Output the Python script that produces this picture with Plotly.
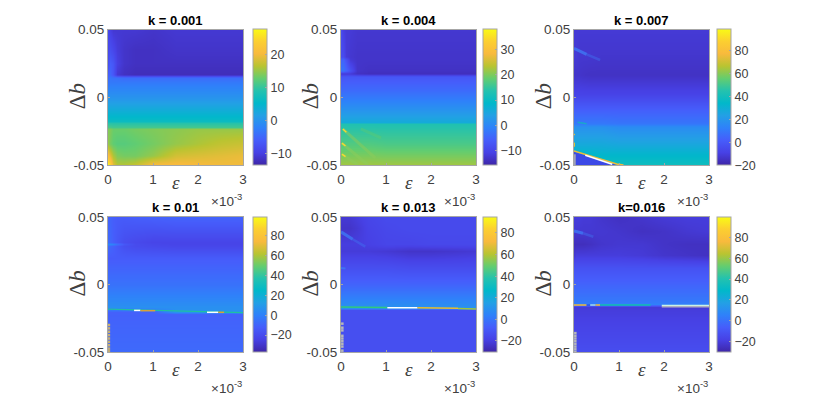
import plotly.graph_objects as go

PAD = 8
W, H = 814, 387

parula = ["#3e26a8", "#4741e5", "#465dfb", "#2f81fa", "#23a0e5", "#01b8ca",
          "#24c2ae", "#64cd6f", "#b9c431", "#f8ba3d", "#fccf30", "#f9fb15"]

eps = [0, 0.00005, 0.0001, 0.0002, 0.00035, 0.0006, 0.001, 0.0015, 0.002, 0.0025, 0.003]
eps_ticks = [0, 0.001, 0.002, 0.003]
eps_labels = ["0", "1", "2", "3"]
db_ticks = [-0.05, 0, 0.05]
db_labels = ["-0.05", "0", "0.05"]
titles = ["k = 0.001", "k = 0.004", "k = 0.007", "k = 0.01", "k = 0.013", "k=0.016"]

# k = 0.001
y_a = [0.05, 0.035, 0.025, 0.0165, 0.0145, 0.011, 0, -0.0095, -0.0176, -0.0185, -0.022, -0.0228, -0.034, -0.043, -0.05]
z_a = [
    [-9, -10, -11, -11, -11, -11, -11.5, -11, -11, -11, -11],
    [-9, -8, -9, -10.5, -11.5, -12, -12, -11.5, -11.5, -11.5, -11.5],
    [-8, -6, -7, -10, -11.5, -12, -12, -12, -12, -12, -12],
    [-6, -5, -7, -11, -12, -12.5, -12.5, -12.5, -12.5, -12.5, -12.5],
    [-5, -3.5, -4, -4, -4.5, -4.5, -4.5, -4.5, -4.5, -4.5, -4.5],
    [-4, -3, -3, -3, -3, -3, -3, -3, -3, -3, -3],
    [0, 0, 0, 0, 0, 0, 0, 0, 0, 0, 0],
    [3.5, 3.5, 3.5, 3.5, 3.5, 3.5, 3.5, 3.5, 3.5, 3.5, 3.5],
    [7, 6.5, 6.5, 6.5, 6.5, 6.5, 6.5, 6.5, 6.5, 6.5, 6.5],
    [9, 9, 9, 9, 9, 9, 9, 9, 9, 9, 9],
    [11.5, 11.5, 11, 11, 11, 11, 11, 11, 11, 11, 11],
    [14, 14, 13, 13, 13, 13.5, 14, 14.5, 15, 15, 15],
    [15, 13.5, 12.5, 12, 12, 12.5, 13.5, 15, 16, 17, 17.5],
    [21, 19, 16, 14, 13.5, 13.5, 15, 18, 18.5, 19, 19.5],
    [27.5, 25, 19, 16.5, 16.5, 17.5, 21, 21, 20.5, 20, 20],
]

# k = 0.004
y_b = [0.05, 0.03, 0.0275, 0.02, 0.0175, 0.0155, 0.005, 0, -0.0095, -0.0188, -0.0197, -0.034, -0.05]
z_b = [
    [-9, -11, -12, -12, -12.5, -12.5, -12.5, -12.5, -12.5, -12.5, -12.5],
    [-9, -9, -12, -12.5, -13, -13, -13, -13, -13, -13, -13],
    [-5, -5, -8, -12, -13, -13, -13, -13, -13, -13, -13],
    [-3, -3, -5, -8, -13, -13.5, -13.5, -13.5, -13.5, -13.5, -13.5],
    [-12, -12, -12, -12, -13.5, -14, -14, -14, -14, -14, -14],
    [-7, -7, -7, -7, -7, -7, -7, -7, -7, -7, -7],
    [-4, -4, -4, -4, -4, -4, -4, -4, -4, -4, -4],
    [-2, -2, -2, -2, -2, -2, -2, -2, -2, -2, -2],
    [2, 2, 2, 2, 2, 2, 2, 2, 2, 2, 2],
    [6, 6, 6, 6, 6, 6, 6, 6, 6, 6, 6],
    [13, 13, 13, 13, 13, 13, 13, 13, 13, 13, 13],
    [17, 17, 17, 17, 17, 17, 16.5, 16.5, 16.5, 16.5, 16.5],
    [22, 22, 22, 22, 22, 22, 22, 22, 22, 22, 22],
]
stripes_b_x = [[0.00004, 0.00076], [0.00002, 0.0006], [0.00002, 0.00038], [0.00044, 0.00089]]
stripes_b_y = [[-0.0234, -0.0448], [-0.0338, -0.05], [-0.042, -0.05], [-0.0234, -0.03]]
heads_b_x = [[0.00004, 0.00012], [0.00002, 0.0001], [0.00002, 0.0001]]
heads_b_y = [[-0.0234, -0.0258], [-0.0338, -0.036], [-0.042, -0.0438]]

# k = 0.007
y_c = [0.05, 0.035, 0.03, 0.017, 0.002, -0.0095, -0.0195, -0.0215, -0.034, -0.041, -0.05]
z_c = [
    [-12, -12, -12, -12, -12, -12, -12, -12, -12, -12, -12],
    [-12, -12, -13, -13, -13, -13, -13, -13, -13, -13, -13],
    [-12, -12, -13, -13, -13, -13.5, -13.5, -13.5, -13.5, -13.5, -13.5],
    [-14, -14, -14, -14.5, -15, -15, -15, -15, -15, -15, -15],
    [-8, -8, -8, -8, -8, -8, -8, -8, -8, -8, -8],
    [2.5, 2.5, 2.5, 2.5, 2.5, 2.5, 2.5, 2.5, 2.5, 2.5, 2.5],
    [10, 10, 10, 10, 10, 10, 9, 9, 9, 9, 9],
    [18, 18, 18, 18, 18, 18, 16, 16, 16, 16, 16],
    [27, 27, 27, 27, 27, 27, 26, 26, 26, 26, 26],
    [34, 33, 33, 33, 33, 32, 32, 32, 32, 32, 32],
    [39, 39, 39, 39, 39, 39, 39, 39, 39, 39, 39],
]
streak_c_x = [[0, 0.00028], [0.00028, 0.00058]]
streak_c_y = [[0.036, 0.0317], [0.0317, 0.0275]]
glint_c_x = [0.00008, 0.00028]
glint_c_y = [-0.0185, -0.0195]
wedge_c_x = [0, 0.00095, 0]
wedge_c_y = [-0.0403, -0.05, -0.05]
crest_c_x = [0, 0.00095, 0.0011]
crest_c_y = [-0.0396, -0.0493, -0.05]
rim_c_x = [0.00025, 0.00085]
rim_c_y = [-0.0428, -0.0495]
edge_c_x = [[0.00001, 0.00001], [0.00001, 0.00001]]
edge_c_y = [[-0.027, -0.028], [-0.0335, -0.0365]]

# k = 0.01
y_d = [0.05, 0.0315, 0.03, 0.0285, 0.02, 0, -0.017, -0.0205, -0.0215, -0.03, -0.05]
z_d = [
    [-11, -10, -12, -13, -13, -12, -11, -10, -10, -10, -10],
    [-8, -9, -12, -15, -19, -21, -23, -23, -23, -23, -23],
    [2, 2, 0, -6, -15, -20, -22, -23, -23, -23, -23],
    [-8, -9, -11, -14, -18, -20, -21, -22, -22, -22, -22],
    [-13, -13, -13, -13, -13, -13, -13, -13, -13, -13, -13],
    [-5, -5, -5, -5, -5, -5, -5, -5, -5, -5, -5],
    [6, 6, 6, 6, 6, 6, 6, 6, 6, 6, 6],
    [-11, -11, -11, -11, -11, -11, -11, 7, 7, 7, 7],
    [-11, -11, -11, -11, -11, -11, -11, -11, -11, -11, -11],
    [-10, -10, -10, -10, -10, -10, -10, -10, -10, -10, -10],
    [-8, -8, -8, -8, -8, -8, -8, -8, -8, -8, -8],
]
line_d_x = [0, 0.0006, 0.0011, 0.0022, 0.003]
line_d_y = [-0.0182, -0.0188, -0.0194, -0.0201, -0.0208]
white_d_x = [[0.00058, 0.00072], [0.0022, 0.00245]]
white_d_y = [[-0.0192, -0.0192], [-0.0206, -0.0206]]
warm_d_x = [[0.00072, 0.00105], [0.00245, 0.00258]]
warm_d_y = [[-0.0194, -0.0194], [-0.0206, -0.0206]]
edge_d_x = [0.00002, 0.00002, 0.00002, 0.00002, 0.00002, 0.00002, 0.00002, 0.00002, 0.00002]
edge_d_y = [-0.03, -0.0325, -0.035, -0.0375, -0.04, -0.0425, -0.045, -0.0475, -0.0495]

# k = 0.013
y_e = [0.05, 0.042, 0.03, 0.025, 0.014, 0, -0.016, -0.0172, -0.019, -0.05]
z_e = [
    [-22, -22, -22, -22, -20, -17, -15, -15, -15, -15, -15],
    [-24, -24, -24, -24, -22, -18, -16, -15, -15, -15, -15],
    [-20, -20, -20, -20, -20, -19, -17, -17, -16, -16, -16],
    [-21, -21, -21, -21, -21, -21, -22, -24, -24, -23, -22],
    [-14, -14, -14, -14, -14, -14, -14, -15, -15, -15, -15],
    [-5, -5, -5, -5, -5, -5, -5, -5, -5, -5, -5],
    [9, 9, 9, 9, 9, 9, 9, 9, 9, 9, 9],
    [9, 9, 9, 9, 9, 9, 9, 9, 9, 9, 9],
    [-13, -13, -13, -13, -13, -13, -13, -13, -13, -13, -13],
    [-13, -13, -13, -13, -13, -13, -13, -13, -13, -13, -13],
]
streak_e_x = [[0, 0.00026], [0.00026, 0.00054]]
streak_e_y = [[0.039, 0.0335], [0.0335, 0.028]]
spot_e_x = [0, 0.0001]
spot_e_y = [0.0122, 0.0118]
line_e_x = [[0, 0.00103], [0.00103, 0.0017], [0.0017, 0.0026], [0.0026, 0.003]]
line_e_y = [[-0.0166, -0.017], [-0.0172, -0.0172], [-0.0172, -0.0176], [-0.0178, -0.0182]]
line_e_colors = ["#31c97c", "#ffffff", "#e9bb30", "#9fc63c"]
edge_e_x = [0.00003, 0.00003, 0.00003, 0.00003, 0.00003, 0.00003, 0.00003, 0.00003, 0.00003]
edge_e_y = [-0.029, -0.032, -0.034, -0.038, -0.04, -0.042, -0.044, -0.046, -0.049]

# k = 0.016
y_f = [0.05, 0.04, 0.03, 0.022, 0.012, 0, -0.0128, -0.0148, -0.0165, -0.019, -0.05]
z_f = [
    [-20, -20, -20, -21, -21, -23, -25, -23, -21, -20, -20],
    [-22, -22, -22, -22, -22, -22, -23, -25, -24, -22, -21],
    [-26, -26, -26, -26, -25, -23, -22, -22, -24, -25, -25],
    [-22, -20, -20, -20, -20, -20, -20, -21, -23, -24, -25],
    [-11, -11, -11, -11, -11, -11, -11, -11, -11, -11, -11],
    [-4, -4, -4, -4, -4, -4, -4, -4, -4, -4, -4],
    [3, 3, 3, 3, 3, 3, 3, 3, 3, 3, 3],
    [5, 5, 5, 5, 5, 5, 5, 5, 5, 5, 5],
    [-21, -21, -21, -21, -21, -21, -21, -21, -21, -21, -21],
    [-20, -20, -20, -20, -20, -20, -20, -20, -20, -20, -20],
    [-13, -13, -13, -13, -13, -13, -13, -13, -13, -13, -13],
]
streak_f_x = [[0, 0.0002], [0.0002, 0.00043]]
streak_f_y = [[0.0396, 0.038], [0.038, 0.0354]]
line_f_x = [[0, 0.00028], [0.00028, 0.00036], [0.00036, 0.00048], [0.00048, 0.00058], [0.00058, 0.0017], [0.00195, 0.003]]
line_f_y = [[-0.0152, -0.0152], [-0.0152, -0.0152], [-0.0152, -0.0152], [-0.0152, -0.0152], [-0.0152, -0.0152], [-0.0155, -0.0155]]
line_f_colors = ["#f1ba37", "#2d55e8", "#9fd8f0", "#f1ba37", "#10bfae", "#c9f2e6"]
grey_f_x = [0.00195, 0.003]
grey_f_y = [-0.0165, -0.0165]
edge_f_x = [0.00003, 0.00003, 0.00003, 0.00003, 0.00003, 0.00003, 0.00003, 0.00003]
edge_f_y = [-0.036, -0.038, -0.04, -0.042, -0.044, -0.046, -0.048, -0.05]

z_ranges = [(-13.6, 27.8), (-15.7, 37.9), (-20, 98.6), (-37, 98.8), (-30.2, 94.8), (-30, 99.5)]
cb_ticks = [
    [-10, 0, 10, 20],
    [-10, 0, 10, 20, 30],
    [-20, 0, 20, 40, 60, 80],
    [-20, 0, 20, 40, 60, 80],
    [-20, 0, 20, 40, 60, 80],
    [-20, 0, 20, 40, 60, 80],
]
grids = [(y_a, z_a), (y_b, z_b), (y_c, z_c), (y_d, z_d), (y_e, z_e), (y_f, z_f)]

# pixel frames of the six panels in the photographed page
lefts = [108, 341, 574]
rights = [243, 476, 709]
tops = [29.5, 217]
bottoms = [165, 352]
cb_lefts = [253, 483, 717]

ink = "#404040"
edge = "#a6a6a6"
streak_blue = "#3f78f5"


def fx(px):
    return (px - PAD) / W


def fy(px):
    return 1 - (px - PAD) / H


fig = go.Figure()
notes = []
for i, (yy, zz) in enumerate(grids):
    col, row = i % 3, i // 3
    l, r, t, b = lefts[col], rights[col], tops[row], bottoms[row]
    name = str(i + 1)
    fig.add_trace(go.Heatmap(
        x=eps, y=yy, z=zz, xaxis="x" + name, yaxis="y" + name,
        zmin=z_ranges[i][0], zmax=z_ranges[i][1], zsmooth="best", colorscale=parula,
        colorbar=dict(
            x=fx(cb_lefts[col]), xanchor="left", xpad=0,
            y=fy((t + b) / 2), yanchor="middle", ypad=0,
            len=b - t, lenmode="pixels", thickness=14, thicknessmode="pixels",
            outlinecolor=edge, outlinewidth=1,
            tickvals=cb_ticks[i], ticks="inside", ticklen=2, tickcolor=edge,
            tickfont=dict(family="Liberation Sans", size=12.5, color=ink),
        ),
    ))
    axis_style = dict(showgrid=False, zeroline=False, showline=True, mirror=True, linecolor=edge,
                      linewidth=1, ticks="inside", ticklen=2, tickcolor=edge,
                      tickfont=dict(family="Liberation Sans", size=13.5, color=ink))
    fig.update_layout({
        "xaxis" + name: dict(domain=[fx(l), fx(r)], range=[0, 0.003], anchor="y" + name, ticklabelstandoff=2,
                             tickvals=eps_ticks, ticktext=eps_labels, **axis_style),
        "yaxis" + name: dict(domain=[fy(b), fy(t)], range=[-0.05, 0.05], anchor="x" + name,
                             tickvals=db_ticks, ticktext=db_labels, **axis_style),
    })
    cx = (l + r) / 2
    notes.append(dict(x=fx(cx), y=fy(t - 9), text="<b>" + titles[i] + "</b>",
                      font=dict(family="Liberation Sans", size=13, color="black")))
    notes.append(dict(x=fx(l - 31), y=fy((t + b) / 2 - 1), text="Δ<i>b</i>", textangle=-90,
                      font=dict(family="Liberation Serif", size=23, color=ink)))
    notes.append(dict(x=fx(cx), y=fy(b + 17), text="<i>ε</i>",
                      font=dict(family="Liberation Serif", size=19, color=ink)))
    notes.append(dict(x=fx(r - 17), y=fy(b + 35), text="×10<sup>-3</sup>",
                      font=dict(family="Liberation Sans", size=13.5, color=ink)))


def add_line(panel, xs, ys, color, width=1.5, opacity=1.0):
    fig.add_trace(go.Scatter(x=xs, y=ys, mode="lines", opacity=opacity, showlegend=False, hoverinfo="skip",
                             xaxis="x" + panel, yaxis="y" + panel, line=dict(color=color, width=width)))


def add_dots(panel, xs, ys, color):
    fig.add_trace(go.Scatter(x=xs, y=ys, mode="markers", showlegend=False, hoverinfo="skip",
                             xaxis="x" + panel, yaxis="y" + panel,
                             marker=dict(color=color, size=2.5, symbol="square")))


def add_streak(panel, xs, ys):
    add_line(panel, xs[0], ys[0], streak_blue, 3, 0.8)
    add_line(panel, xs[1], ys[1], streak_blue, 2.5, 0.4)


# k = 0.004 diagonal ridges
for xs, ys in zip(stripes_b_x[:3], stripes_b_y[:3]):
    add_line("2", xs, ys, "#8dcb5b", 3, 0.5)
for xs, ys in zip(heads_b_x, heads_b_y):
    add_line("2", xs, ys, "#f6d930", 1.5)
add_line("2", stripes_b_x[3], stripes_b_y[3], "#66cc66", 3, 0.35)

# k = 0.007 streak and wedge
add_streak("3", streak_c_x, streak_c_y)
add_line("3", glint_c_x, glint_c_y, "#14b4c0", 1.5, 0.8)
fig.add_trace(go.Scatter(x=wedge_c_x, y=wedge_c_y, mode="lines", fill="toself", fillcolor="#3c49e6",
                         showlegend=False, hoverinfo="skip", xaxis="x3", yaxis="y3",
                         line=dict(color="#3c49e6", width=0)))
add_line("3", crest_c_x, crest_c_y, "#f1ba37", 1.5)
add_line("3", rim_c_x, rim_c_y, "#ffffff", 1.5)
for xs, ys in zip(edge_c_x, edge_c_y):
    add_line("3", xs, ys, "#e9c530", 1)
add_line("3", [0.00002, 0.00002], [-0.042, -0.05], "#b0b0b0", 1.5)

# k = 0.01 front
add_line("4", line_d_x, line_d_y, "#20c0a0", 1.2)
for xs, ys in zip(white_d_x, white_d_y):
    add_line("4", xs, ys, "#ffffff", 1.5)
for xs, ys in zip(warm_d_x, warm_d_y):
    add_line("4", xs, ys, "#d9a03a", 1.5)
add_dots("4", edge_d_x, edge_d_y, "#c9b070")

# k = 0.013 streak and front
add_streak("5", streak_e_x, streak_e_y)
add_line("5", spot_e_x, spot_e_y, streak_blue, 2, 0.8)
for xs, ys, c in zip(line_e_x, line_e_y, line_e_colors):
    add_line("5", xs, ys, c, 1.5)
add_dots("5", edge_e_x, edge_e_y, "#b8b8b8")

# k = 0.016 streak and front
add_streak("6", streak_f_x, streak_f_y)
for xs, ys, c in zip(line_f_x, line_f_y, line_f_colors):
    add_line("6", xs, ys, c, 1.5)
add_line("6", grey_f_x, grey_f_y, "#b0b0c0", 1.5)
add_dots("6", edge_f_x, edge_f_y, "#b8b8b8")

for note in notes:
    note.update(xref="paper", yref="paper", showarrow=False, xanchor="center", yanchor="middle")

fig.update_layout(width=W, height=H, margin=dict(l=0, r=0, t=0, b=0, autoexpand=False), paper_bgcolor="white",
                  plot_bgcolor="white", annotations=notes, showlegend=False)
fig.write_html("out.html")
